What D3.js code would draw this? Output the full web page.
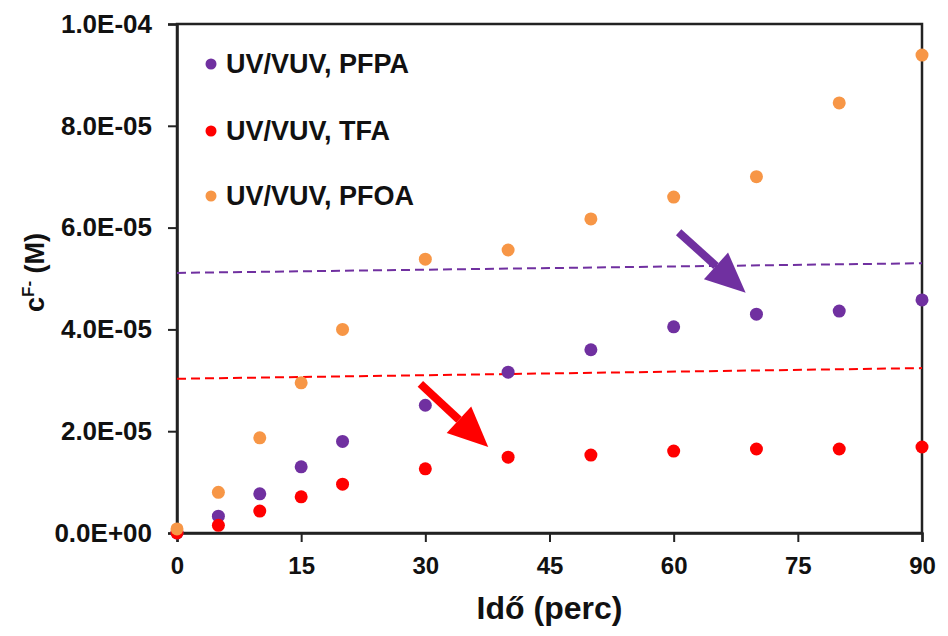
<!DOCTYPE html>
<html>
<head>
<meta charset="utf-8">
<script src="https://cdn.jsdelivr.net/npm/d3@7"></script>
<style>
  body { margin: 0; background: #fff; }
  svg { display: block; }
  text { font-family: "Liberation Sans", Arial, sans-serif; font-weight: bold; fill: #111; }
</style>
</head>
<body>
<svg id="chart"></svg>
<script>
const time = [0, 5, 10, 15, 20, 30, 40, 50, 60, 70, 80, 90]
const pfpa = [0, 3.3e-6, 7.7e-6, 1.3e-5, 1.8e-5, 2.51e-5, 3.16e-5, 3.6e-5, 4.05e-5, 4.3e-5, 4.36e-5, 4.58e-5]
const tfa = [0, 1.5e-6, 4.3e-6, 7.1e-6, 9.6e-6, 1.26e-5, 1.49e-5, 1.53e-5, 1.61e-5, 1.65e-5, 1.65e-5, 1.69e-5]
const pfoa = [8e-7, 8e-6, 1.87e-5, 2.95e-5, 4.0e-5, 5.38e-5, 5.56e-5, 6.17e-5, 6.6e-5, 7.0e-5, 8.45e-5, 9.39e-5]

const seriesNames = ['UV/VUV, PFPA', 'UV/VUV, TFA', 'UV/VUV, PFOA']
const seriesColors = ['#7030a0', '#ff0000', '#f79646']

const xTicks = [0, 15, 30, 45, 60, 75, 90]
const yTicks = [0, 2e-5, 4e-5, 6e-5, 8e-5, 1e-4]

// dashed reference lines [x0, y0, x1, y1]
const purpleLine = [0, 5.11e-5, 90, 5.30e-5]
const redLine = [0, 3.03e-5, 90, 3.24e-5]

// arrows [x0, y0, x1, y1] in data units (tail -> tip)
const purpleArrow = [60.6, 5.91e-5, 68.7, 4.72e-5]
const redArrow = [29.4, 2.93e-5, 37.6, 1.69e-5]

const width = 948
const height = 636
const margin = {top: 24, right: 26, bottom: 103, left: 177}
const innerW = width - margin.left - margin.right
const innerH = height - margin.top - margin.bottom

const svg = d3.select('#chart')
  .attr('width', width)
  .attr('height', height)

const g = svg.append('g')
  .attr('transform', `translate(${margin.left},${margin.top})`)

const x = d3.scaleLinear().domain([0, 90]).range([0, innerW])
const y = d3.scaleLinear().domain([0, 1e-4]).range([innerH, 0])

function sciFormat(v) {
  if (v === 0) return '0.0E+00'
  const exp = Math.floor(Math.log10(v) + 1e-9)
  const mant = v / Math.pow(10, exp)
  const sign = exp < 0 ? '-' : '+'
  return mant.toFixed(1) + 'E' + sign + String(Math.abs(exp)).padStart(2, '0')
}

// frame
g.append('rect')
  .attr('width', innerW)
  .attr('height', innerH)
  .attr('fill', 'none')
  .attr('stroke', '#222')
  .attr('stroke-width', 2.5)

const xAxis = g.append('g')
  .attr('transform', `translate(0,${innerH})`)
  .call(d3.axisBottom(x).tickValues(xTicks).tickSize(9).tickPadding(15))
xAxis.select('.domain').attr('stroke', '#222').attr('stroke-width', 2.5)
xAxis.selectAll('.tick line').attr('stroke', '#222').attr('stroke-width', 2)
xAxis.selectAll('.tick text')
  .style('font-size', '24px')
  .attr('fill', '#111')

const yAxis = g.append('g')
  .call(d3.axisLeft(y).tickValues(yTicks).tickFormat(sciFormat).tickSize(9).tickPadding(16))
yAxis.select('.domain').attr('stroke', '#222').attr('stroke-width', 2.5)
yAxis.selectAll('.tick line').attr('stroke', '#222').attr('stroke-width', 2)
yAxis.selectAll('.tick text')
  .style('font-size', '26px')
  .attr('fill', '#111')

// axis titles
svg.append('text')
  .attr('x', margin.left + x(45))
  .attr('y', 619)
  .attr('text-anchor', 'middle')
  .style('font-size', '32px')
  .text('Idő (perc)')

const yTitle = svg.append('text')
  .attr('transform', `translate(44,${margin.top + innerH / 2 - 6}) rotate(-90)`)
  .attr('text-anchor', 'middle')
  .style('font-size', '27px')
yTitle.append('tspan').text('c')
yTitle.append('tspan').attr('dy', -10).style('font-size', '17px').text('F-')
yTitle.append('tspan').attr('dy', 10).text(' (M)')

// dashed lines
function drawDash(d, color) {
  g.append('line')
    .attr('x1', x(d[0])).attr('y1', y(d[1]))
    .attr('x2', x(d[2])).attr('y2', y(d[3]))
    .attr('stroke', color)
    .attr('stroke-width', 2)
    .attr('stroke-dasharray', '9,5')
}
drawDash(purpleLine, seriesColors[0])
drawDash(redLine, seriesColors[1])

// points
const seriesData = [pfpa, tfa, pfoa]
seriesData.forEach((vals, i) => {
  g.append('g')
    .selectAll('circle')
    .data(vals)
    .enter()
    .append('circle')
    .attr('cx', (d, j) => x(time[j]))
    .attr('cy', d => y(d))
    .attr('r', 6.5)
    .attr('fill', seriesColors[i])
})

// arrows
function drawArrow(d, color) {
  const x0 = x(d[0]), y0 = y(d[1]), x1 = x(d[2]), y1 = y(d[3])
  const ang = Math.atan2(y1 - y0, x1 - x0)
  const headLen = 40, headW = 18, shaftW = 4
  const bx = x1 - headLen * Math.cos(ang), by = y1 - headLen * Math.sin(ang)
  const nx = -Math.sin(ang), ny = Math.cos(ang)
  g.append('line')
    .attr('x1', x0).attr('y1', y0)
    .attr('x2', bx).attr('y2', by)
    .attr('stroke', color)
    .attr('stroke-width', shaftW * 2)
  g.append('path')
    .attr('d', `M${x1},${y1}L${bx + nx * headW},${by + ny * headW}L${bx - nx * headW},${by - ny * headW}Z`)
    .attr('fill', color)
}
drawArrow(purpleArrow, seriesColors[0])
drawArrow(redArrow, seriesColors[1])

// legend
const legend = g.append('g')
const legendY = [40, 107, 172]
seriesNames.forEach((name, i) => {
  legend.append('circle')
    .attr('cx', 34)
    .attr('cy', legendY[i])
    .attr('r', 5.5)
    .attr('fill', seriesColors[i])
  legend.append('text')
    .attr('x', 49)
    .attr('y', legendY[i] + 9)
    .style('font-size', '27px')
    .text(name)
})
</script>
</body>
</html>
